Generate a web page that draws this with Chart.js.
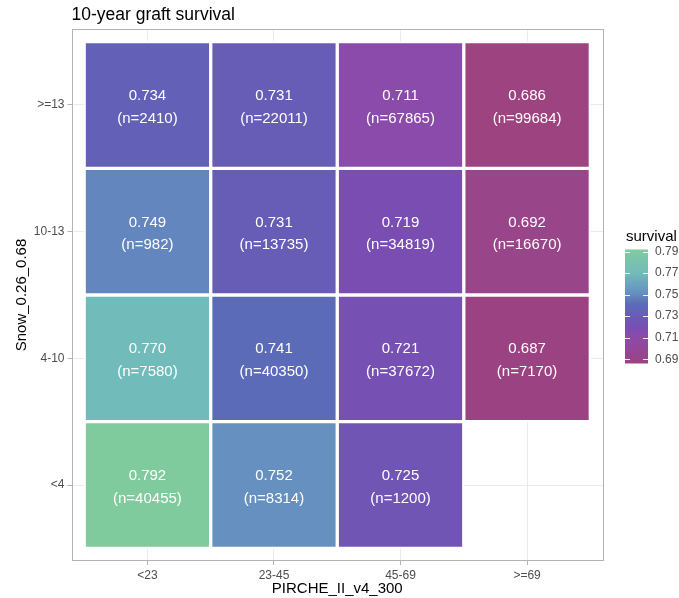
<!DOCTYPE html>
<html>
<head>
<meta charset="utf-8">
<script src="https://cdn.jsdelivr.net/npm/chart.js@4.4.1/dist/chart.umd.min.js"></script>
<style>
  html, body { margin: 0; padding: 0; background: #ffffff; }
  #wrap { width: 679px; height: 598px; }
</style>
</head>
<body>
<div id="wrap"><canvas id="c" width="679" height="598"></canvas></div>
<script>
// Categories
const pircheCats = ['<23', '23-45', '45-69', '>=69'];
const snowCats = ['<4', '4-10', '10-13', '>=13'];

// 10-year graft survival per Snow group (columns follow pircheCats)
const survivalLt4 = [0.792, 0.752, 0.725, null];
const survival4to10 = [0.770, 0.741, 0.721, 0.687];
const survival10to13 = [0.749, 0.731, 0.719, 0.692];
const survivalGe13 = [0.734, 0.731, 0.711, 0.686];

// Number of transplants per cell
const countLt4 = [40455, 8314, 1200, null];
const count4to10 = [7580, 40350, 37672, 7170];
const count10to13 = [982, 13735, 34819, 16670];
const countGe13 = [2410, 22011, 67865, 99684];

// Colour bar labels
const legendTicks = [0.69, 0.71, 0.73, 0.75, 0.77, 0.79];

const survivalRows = [survivalLt4, survival4to10, survival10to13, survivalGe13];
const countRows = [countLt4, count4to10, count10to13, countGe13];

const allVals = survivalRows.flat().filter(v => v !== null);
const vMin = Math.min(...allVals);
const vMax = Math.max(...allVals);

// Fill palette (low -> high)
const paletteStops = [
  [0.000, '#9c4380'],
  [0.236, '#8b4bab'],
  [0.311, '#7a4db3'],
  [0.425, '#675db6'],
  [0.519, '#5b6bb8'],
  [0.623, '#6690c0'],
  [0.792, '#72bbbb'],
  [1.000, '#80cb9e']
];
function hexToRgb(h) {
  return [parseInt(h.slice(1, 3), 16), parseInt(h.slice(3, 5), 16), parseInt(h.slice(5, 7), 16)];
}
function fillFor(v) {
  const t = Math.max(0, Math.min(1, (v - vMin) / (vMax - vMin)));
  for (let i = 1; i < paletteStops.length; i++) {
    const [t1, c1] = paletteStops[i];
    const [t0, c0] = paletteStops[i - 1];
    if (t <= t1) {
      const f = (t - t0) / (t1 - t0);
      const a = hexToRgb(c0), b = hexToRgb(c1);
      const rgb = a.map((x, k) => Math.round(x + (b[k] - x) * f));
      return `rgb(${rgb[0]},${rgb[1]},${rgb[2]})`;
    }
  }
  return paletteStops[paletteStops.length - 1][1];
}

const FONT = "'Liberation Sans', Arial, Helvetica, sans-serif";

// One floating-bar dataset per Snow row; each bar covers one tile
const datasets = survivalRows.map((row, r) => {
  const pts = [];
  const colors = [];
  const labels = [];
  row.forEach((v, c) => {
    if (v === null) return;
    pts.push({ x: c + 1, y: [r + 0.5, r + 1.5] });
    colors.push(fillFor(v));
    labels.push([v.toFixed(3), `(n=${countRows[r][c]})`]);
  });
  return {
    label: snowCats[r],
    data: pts,
    backgroundColor: colors,
    borderColor: '#ffffff',
    borderWidth: 2,
    borderSkipped: false,
    grouped: false,
    categoryPercentage: 1,
    barPercentage: 1,
    cellLabels: labels
  };
});

// Text inside each tile
const tileLabels = {
  id: 'tileLabels',
  afterDatasetsDraw(chart) {
    const ctx = chart.ctx;
    ctx.save();
    ctx.fillStyle = '#ffffff';
    ctx.font = `15px ${FONT}`;
    ctx.textAlign = 'center';
    ctx.textBaseline = 'alphabetic';
    chart.data.datasets.forEach((ds, i) => {
      const meta = chart.getDatasetMeta(i);
      meta.data.forEach((el, j) => {
        const cy = (el.y + el.base) / 2;
        const [l1, l2] = ds.cellLabels[j];
        ctx.fillText(l1, el.x, cy - 5);
        ctx.fillText(l2, el.x, cy + 17.5);
      });
    });
    ctx.restore();
  }
};

// Panel frame, plot title and colour bar
const decorations = {
  id: 'decorations',
  afterDraw(chart) {
    const ctx = chart.ctx;
    const a = chart.chartArea;
    ctx.save();
    ctx.strokeStyle = '#b3b3b3';
    ctx.lineWidth = 1;
    ctx.strokeRect(Math.round(a.left) + 0.5, Math.round(a.top) + 0.5,
                   Math.round(a.right - a.left) - 1, Math.round(a.bottom - a.top) - 1);

    ctx.fillStyle = '#000000';
    ctx.font = `17.5px ${FONT}`;
    ctx.textAlign = 'left';
    ctx.textBaseline = 'alphabetic';
    ctx.fillText('10-year graft survival', a.left, 20);

    // colour bar
    const bx = 625, bw = 23, bTop = 249.5, bBot = 363.5;
    const grad = ctx.createLinearGradient(0, bBot, 0, bTop);
    for (let k = 0; k <= 40; k++) {
      const t = k / 40;
      grad.addColorStop(t, fillFor(vMin + t * (vMax - vMin)));
    }
    ctx.fillStyle = grad;
    ctx.fillRect(bx, bTop, bw, bBot - bTop);

    ctx.fillStyle = '#000000';
    ctx.font = `15px ${FONT}`;
    ctx.fillText('survival', 626, 241);

    ctx.font = `12px ${FONT}`;
    ctx.textBaseline = 'middle';
    legendTicks.forEach(v => {
      const y = bBot - (v - vMin) / (vMax - vMin) * (bBot - bTop);
      ctx.strokeStyle = 'rgba(255,255,255,0.9)';
      ctx.beginPath();
      ctx.moveTo(bx, Math.round(y) + 0.5); ctx.lineTo(bx + 5, Math.round(y) + 0.5);
      ctx.moveTo(bx + bw - 5, Math.round(y) + 0.5); ctx.lineTo(bx + bw, Math.round(y) + 0.5);
      ctx.stroke();
      ctx.fillStyle = '#4d4d4d';
      ctx.fillText(v.toFixed(2), 655, y);
    });
    ctx.restore();
  }
};

const tickFont = { family: FONT, size: 12 };

new Chart(document.getElementById('c'), {
  type: 'bar',
  data: { datasets },
  options: {
    responsive: false,
    animation: false,
    devicePixelRatio: 1,
    events: [],
    layout: { padding: { top: 29, right: 76, bottom: 0, left: 0 } },
    plugins: { legend: { display: false }, tooltip: { enabled: false }, title: { display: false } },
    scales: {
      x: {
        type: 'linear',
        min: 0.4,
        max: 4.6,
        offset: false,
        afterBuildTicks: s => { s.ticks = pircheCats.map((_, i) => ({ value: i + 1 })); },
        afterFit: s => { s.height = 37; },
        ticks: { callback: v => pircheCats[v - 1], font: tickFont, color: '#4d4d4d', padding: 3, maxRotation: 0 },
        grid: { offset: false, color: '#ebebeb', tickColor: '#b3b3b3', tickLength: 4, lineWidth: 1 },
        border: { display: false },
        title: { display: true, text: 'PIRCHE_II_v4_300', color: '#000000', font: { family: FONT, size: 15 }, padding: 0 }
      },
      y: {
        type: 'linear',
        min: 0.4,
        max: 4.6,
        afterBuildTicks: s => { s.ticks = snowCats.map((_, i) => ({ value: i + 1 })); },
        afterFit: s => { s.width = 71.5; },
        ticks: { callback: v => snowCats[v - 1], font: tickFont, color: '#4d4d4d', padding: 3 },
        grid: { color: '#ebebeb', tickColor: '#b3b3b3', tickLength: 4, lineWidth: 1 },
        border: { display: false },
        title: { display: true, text: 'Snow_0.26_0.68', color: '#000000', font: { family: FONT, size: 15 }, padding: { top: 13, bottom: 0 } }
      }
    }
  },
  plugins: [tileLabels, decorations]
});
</script>
</body>
</html>
